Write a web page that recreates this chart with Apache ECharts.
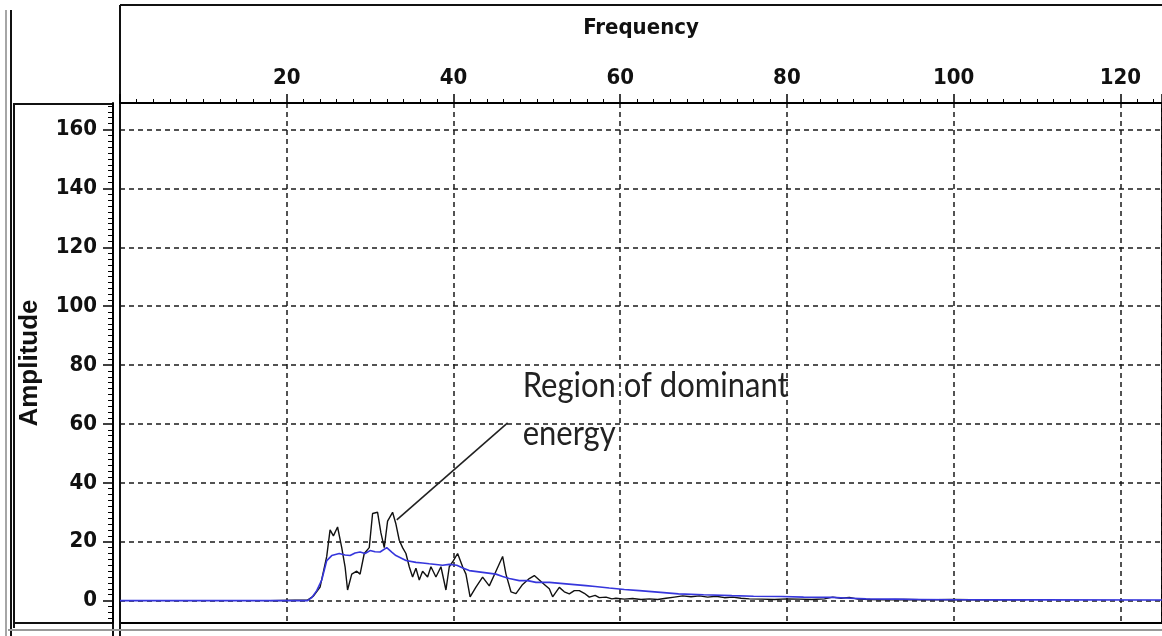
<!DOCTYPE html>
<html>
<head>
<meta charset="utf-8">
<script src="https://cdn.jsdelivr.net/npm/echarts@6/dist/echarts.min.js"></script>
<style>
html,body{margin:0;padding:0;background:#fff;}
#chart{width:1162px;height:636px;}
</style>
</head>
<body>
<div id="chart"></div>
<script>
// ---- data ----
const xTickValues = [20, 40, 60, 80, 100, 120];
const yTickValues = [0, 20, 40, 60, 80, 100, 120, 140, 160];
const xTitle = 'Frequency';
const yTitle = 'Amplitude';
const noteLines = ['Region of dominant', 'energy'];
// leader line from peak to note, in data units [frequency, amplitude]
const noteLineFrom = [33.2, 27.4];
const noteLineTo = [46.5, 60.4];
const noteAnchor = [48.3, 69.9];

// raw spectrum (black) [frequency, amplitude]
const rawSpectrum = [
  [18,0],[22.5,0.2],[23.2,1.5],[24,4.6],[24.8,15],[25.2,24],[25.6,22],[26.1,25],[26.6,18],[27.0,11.5],
  [27.3,3.6],[27.8,9],[28.4,10],[28.8,9],[29.3,16],[29.9,18],[30.3,29.6],[30.9,30],[31.3,23],[31.7,18],
  [32.1,27],[32.7,30],[33.1,26],[33.5,20.5],[33.9,18],[34.3,16],[34.7,11.5],[35.1,8],[35.5,11],[35.9,7],
  [36.3,10],[36.9,8],[37.3,11.5],[37.9,8],[38.5,11.5],[39.1,3.6],[39.5,11.5],[40.0,13.6],[40.5,16],[41.1,11.5],
  [41.5,9],[42.0,1.3],[42.7,4.6],[43.5,8],[44.3,5],[45.1,10],[45.9,15],[46.3,9],[46.9,3],[47.5,2.4],
  [48.3,5.5],[49.1,7.5],[49.7,8.5],[50.3,7],[50.9,5.5],[51.5,4],[51.9,1.3],[52.7,4.5],[53.3,3],[53.9,2.3],
  [54.5,3.4],[55.1,3.4],[55.7,2.5],[56.3,1.2],[57.0,1.8],[57.5,1.0],[58.3,1.2],[59.0,0.6],[59.5,0.8],[60.5,0.5],
  [61.5,0.7],[62.5,0.4],[63.5,0.6],[64.5,0.4],[65.5,0.8],[66.5,1.2],[67.5,1.6],[68.5,1.3],[69.5,1.6],[70.5,1.2],
  [71.5,1.5],[72.5,1.0],[73.5,1.2],[74.5,0.8],[75.5,0.6],[77,0.5],[78.5,0.4],[80,0.6],[81.5,0.5],[83,0.4],
  [84.5,0.6],[85.5,1.2],[86.5,0.8],[87.5,1.1],[88.5,0.5],[90,0.4],[92,0.3],[94,0.4],[96,0.3],[98,0.3],
  [100,0.4],[102,0.3],[104,0.3],[106,0.3],[108.7,0.3]
];

// smoothed spectrum (blue) [frequency, amplitude]
const smoothSpectrum = [
  [0,0],[22.5,0],[23.0,1],[23.6,3.4],[24.2,7],[24.8,13.6],[25.4,15.3],[26.3,16],[27.0,15.5],[27.6,15.3],
  [28.2,16.2],[28.8,16.5],[29.4,16],[30,17],[30.6,16.6],[31.2,16.5],[32,18],[32.6,16.5],[33.1,15.3],[33.7,14.5],
  [34.3,13.6],[35.5,13],[36.3,12.8],[37.1,12.5],[38.7,12],[39.5,12.3],[40.4,12],[41.2,11],[41.9,10.2],[43.5,9.6],
  [45.1,9],[45.9,8.2],[46.7,7.5],[47.9,6.8],[48.9,6.8],[49.9,6.2],[51.5,6.2],[53.5,5.7],[55.9,5.1],[57,4.8],
  [58.7,4.3],[60.5,3.8],[62.3,3.4],[64.5,2.9],[67,2.3],[70,2.0],[73.4,1.7],[76,1.5],[79.4,1.4],[82,1.2],
  [85.4,1.1],[87,0.9],[89.5,0.6],[93,0.5],[96,0.4],[100.6,0.3],[110,0.25],[125,0.2]
];

const chart = echarts.init(document.getElementById('chart'), null, {renderer: 'canvas'});
const narrowBold = {fontFamily: "'DejaVu Sans Condensed','Liberation Sans Narrow','Liberation Sans',Arial,sans-serif", fontWeight: 'bold'};
const dashed = {color: '#1a1a1a', width: 1.5, type: [5, 4]};

const option = {
  animation: false,
  backgroundColor: '#fff',
  grid: {left: 120, top: 103, width: 1044, height: 520, show: true, borderColor: '#000', borderWidth: 2, backgroundColor: 'transparent'},
  xAxis: {
    type: 'value', position: 'top', min: 0, max: 125, interval: 20,
    name: xTitle, nameLocation: 'middle', nameGap: 64,
    nameTextStyle: Object.assign({fontSize: 22, color: '#111'}, narrowBold),
    axisLine: {show: true, onZero: false, lineStyle: {color: '#000', width: 2}},
    axisTick: {show: true, length: 9, lineStyle: {color: '#000', width: 1.5}},
    minorTick: {show: true, splitNumber: 10, length: 4, lineStyle: {color: '#000', width: 1}},
    axisLabel: Object.assign({fontSize: 22, color: '#111', margin: 14, hideOverlap: false,
      customValues: xTickValues}, narrowBold),
    splitLine: {show: true, lineStyle: dashed}
  },
  yAxis: {
    type: 'value', min: -7.6, max: 169, splitNumber: 9, offset: 7,
    name: yTitle, nameLocation: 'middle', nameGap: 70, nameRotate: 90,
    nameTextStyle: {fontSize: 26, color: '#111', fontWeight: 'bold', fontFamily: "'Liberation Sans',Arial,sans-serif"},
    axisLine: {show: true, onZero: false, lineStyle: {color: '#000', width: 2}},
    axisTick: {show: true, length: 10, lineStyle: {color: '#000', width: 1.5}, customValues: yTickValues},
    minorTick: {show: true, splitNumber: 10, length: 5, lineStyle: {color: '#000', width: 1}},
    axisLabel: Object.assign({fontSize: 22, color: '#111', margin: 16, customValues: yTickValues}, narrowBold),
    splitLine: {show: true, lineStyle: dashed}
  },
  series: [
    {
      type: 'line', data: rawSpectrum, showSymbol: false, symbol: 'none', z: 3,
      lineStyle: {color: '#111', width: 1.4},
      markLine: {
        silent: true, symbol: 'none', label: {show: false},
        lineStyle: {color: '#222', width: 1.6, type: 'solid'},
        data: [[{coord: noteLineFrom}, {coord: noteLineTo}]]
      }
    },
    {
      type: 'line', data: smoothSpectrum, showSymbol: false, symbol: 'none', z: 4,
      lineStyle: {color: '#3636dc', width: 1.6}
    }
  ]
};
chart.setOption(option);

const p = chart.convertToPixel({gridIndex: 0}, noteAnchor);
const frame = {stroke: '#111', lineWidth: 2};
chart.setOption({
  graphic: [
    {type: 'text', x: p[0], y: p[1] - 33, scaleY: 1.1, z: 10,
      style: {text: noteLines.join('\n'), font: "31px Lato, 'Open Sans', sans-serif", fill: '#222', lineHeight: 44}},
    // decorative frame of the original panel layout
    {type: 'line', shape: {x1: 6, y1: 10, x2: 6, y2: 636}, style: {stroke: '#888', lineWidth: 1.5}},
    {type: 'line', shape: {x1: 11, y1: 10, x2: 11, y2: 636}, style: frame},
    {type: 'line', shape: {x1: 13, y1: 104, x2: 113, y2: 104}, style: frame},
    {type: 'line', shape: {x1: 14, y1: 104, x2: 14, y2: 628}, style: frame},
    {type: 'line', shape: {x1: 14, y1: 623, x2: 113, y2: 623}, style: frame},
    {type: 'line', shape: {x1: 120, y1: 5, x2: 1162, y2: 5}, style: frame},
    {type: 'line', shape: {x1: 120, y1: 5, x2: 120, y2: 636}, style: frame},
    {type: 'line', shape: {x1: 113, y1: 623, x2: 113, y2: 636}, style: frame},
    {type: 'line', shape: {x1: 8, y1: 630, x2: 1162, y2: 630}, style: {stroke: '#999', lineWidth: 2}}
  ]
});
</script>
</body>
</html>
